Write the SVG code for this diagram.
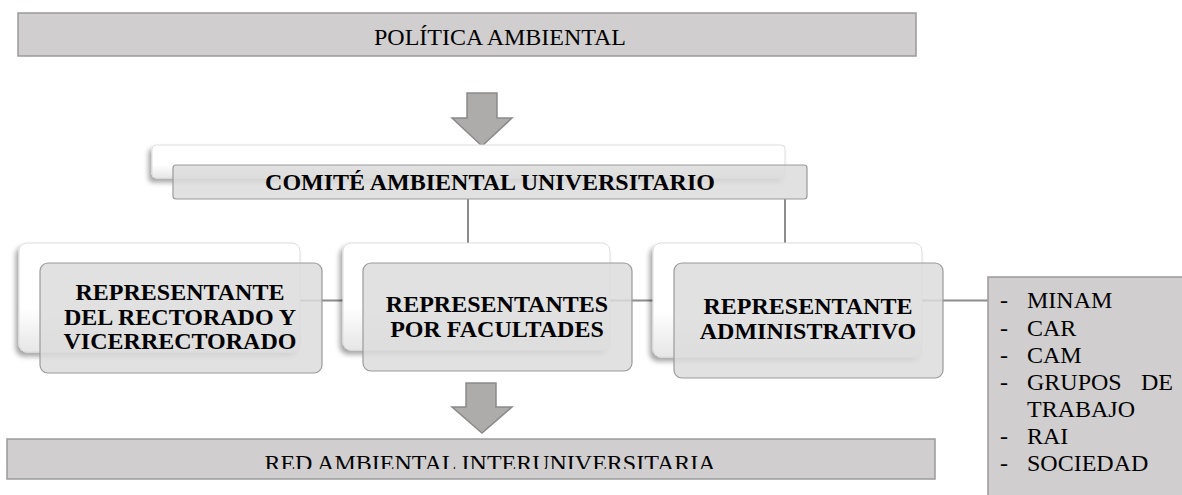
<svg xmlns="http://www.w3.org/2000/svg" width="1182" height="495" viewBox="0 0 1182 495">
<style>
.band{fill:#d0cecf;stroke:#9a9a9a;stroke-width:1.5}
.back{fill:url(#g);stroke:#dddddd;stroke-width:1;filter:url(#sh)}
.front{fill:#dcdcdc;fill-opacity:0.85;stroke:#9a9a9a;stroke-width:1.2}
.arrow{fill:#aeabab;stroke:#8a8a8a;stroke-width:1.5}
.conn{stroke:#8c8c8c;stroke-width:2;fill:none}
.t{font-size:24px;fill:#000}
.b{font-weight:bold;text-anchor:middle}
</style>
<defs>
<linearGradient id="g" x1="0" y1="0" x2="0" y2="1">
<stop offset="0" stop-color="#ffffff"/>
<stop offset="0.6" stop-color="#ffffff"/>
<stop offset="1" stop-color="#e6e6e6"/>
</linearGradient>
<filter id="sh" x="-10%" y="-20%" width="120%" height="150%">
<feDropShadow dx="-3" dy="4" stdDeviation="2.5" flood-color="#000" flood-opacity="0.35"/>
</filter>
<clipPath id="clipRed"><rect x="0" y="439" width="940" height="30"/></clipPath>
</defs>
<rect width="1182" height="495" fill="#fff"/>
<g id="connectors">
<line class="conn" x1="468" y1="199" x2="468" y2="243"/>
<line class="conn" x1="785" y1="199" x2="785" y2="243"/>
<line class="conn" x1="300" y1="300.5" x2="343" y2="300.5"/>
<line class="conn" x1="610" y1="300.5" x2="653" y2="300.5"/>
<line class="conn" x1="922" y1="300.5" x2="988" y2="300.5"/>
</g>
<g font-family="'Liberation Serif', 'Times New Roman', Times, serif">
<g id="politica">
<rect class="band" x="18" y="13" width="898" height="43"/>
<text class="t" x="500" y="45" text-anchor="middle">POLÍTICA AMBIENTAL</text>
</g>
<g id="arrow-top">
<polygon class="arrow" points="467,93 497,93 497,118 512,118 482,146 452,118 467,118"/>
</g>
<g id="comite">
<rect class="back" x="152" y="145" width="633" height="33" rx="4"/>
<rect class="front" x="173" y="165" width="634" height="34" rx="3"/>
<text class="t b" x="490" y="190">COMITÉ AMBIENTAL UNIVERSITARIO</text>
</g>
<g id="rector">
<rect class="back" x="19" y="243" width="281" height="109" rx="8"/>
<rect class="front" x="40" y="263" width="282" height="110" rx="8"/>
<text class="t b" x="180" y="300">REPRESENTANTE</text>
<text class="t b" x="180" y="325">DEL RECTORADO Y</text>
<text class="t b" x="180" y="349">VICERRECTORADO</text>
</g>
<g id="facultades">
<rect class="back" x="343" y="243" width="267" height="107" rx="8"/>
<rect class="front" x="363" y="263" width="269" height="108" rx="8"/>
<text class="t b" x="497" y="312">REPRESENTANTES</text>
<text class="t b" x="497" y="337">POR FACULTADES</text>
</g>
<g id="administrativo">
<rect class="back" x="653" y="243" width="269" height="114" rx="8"/>
<rect class="front" x="674" y="263" width="269" height="115" rx="8"/>
<text class="t b" x="808" y="314">REPRESENTANTE</text>
<text class="t b" x="808" y="339">ADMINISTRATIVO</text>
</g>
<g id="lista">
<rect class="band" x="988" y="277" width="210" height="230"/>
<text class="t" x="1000" y="308">-</text><text class="t" x="1027" y="308">MINAM</text>
<text class="t" x="1000" y="336">-</text><text class="t" x="1027" y="336">CAR</text>
<text class="t" x="1000" y="363">-</text><text class="t" x="1027" y="363">CAM</text>
<text class="t" x="1000" y="390">-</text><text class="t" x="1027" y="390">GRUPOS</text><text class="t" x="1173" y="390" text-anchor="end">DE</text>
<text class="t" x="1027" y="417">TRABAJO</text>
<text class="t" x="1000" y="444">-</text><text class="t" x="1027" y="444">RAI</text>
<text class="t" x="1000" y="471">-</text><text class="t" x="1027" y="471">SOCIEDAD</text>
</g>
<g id="arrow-bottom">
<polygon class="arrow" points="466,383 496,383 496,407 512,407 482,433 452,407 466,407"/>
</g>
<g id="red">
<rect class="band" x="7" y="439" width="928" height="40"/>
<text class="t" x="490" y="471" text-anchor="middle" clip-path="url(#clipRed)">RED AMBIENTAL INTERUNIVERSITARIA</text>
</g>
</g>
</svg>
